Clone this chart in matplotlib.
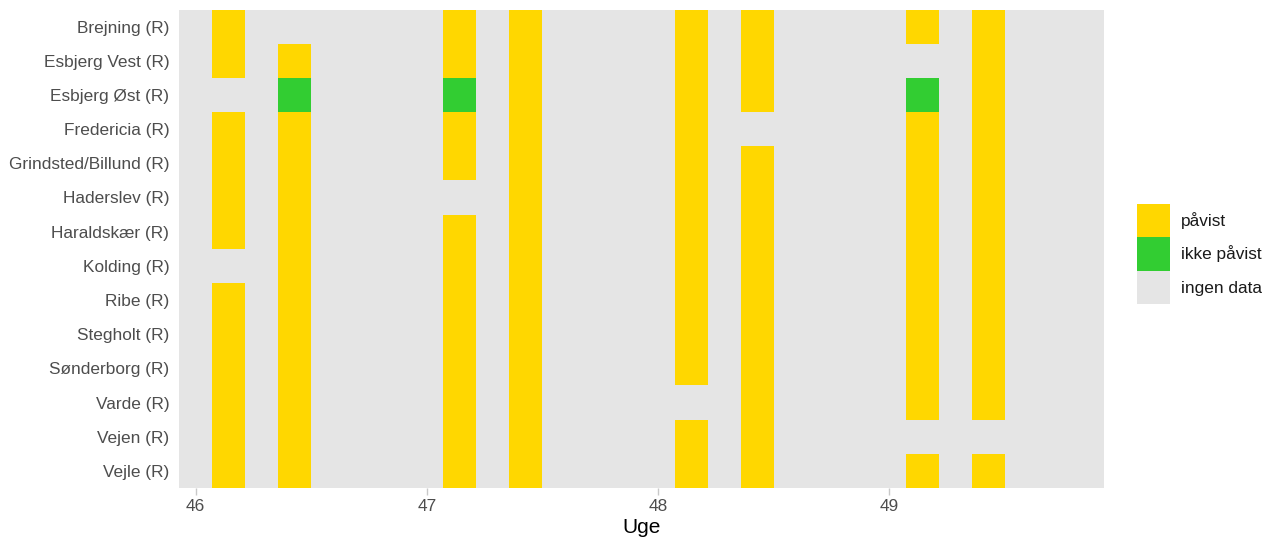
import matplotlib.pyplot as plt
from matplotlib.patches import Patch

plt.rcParams['font.family'] = ['Liberation Sans', 'DejaVu Sans']

stations = ["Brejning (R)", "Esbjerg Vest (R)", "Esbjerg Øst (R)", "Fredericia (R)",
            "Grindsted/Billund (R)", "Haderslev (R)", "Haraldskær (R)", "Kolding (R)",
            "Ribe (R)", "Stegholt (R)", "Sønderborg (R)", "Varde (R)", "Vejen (R)", "Vejle (R)"]

# sample dates: ISO week + weekday offset (days)
weeks = [46, 46, 47, 47, 48, 48, 49, 49]
days = [1, 3, 1, 3, 1, 3, 1, 3]

# one string per sample date, one char per station (top to bottom)
# P = påvist, I = ikke påvist, - = ingen data
results = [
    "PP-PPPP-PPPPPP",
    "-PIPPPPPPPPPPP",
    "PPIPP-PPPPPPPP",
    "PPPPPPPPPPPPPP",
    "PPPPPPPPPPP-PP",
    "PPP-PPPPPPPPPP",
    "P-IPPPPPPPPP-P",
    "PPPPPPPPPPPP-P",
]

colors = {"P": "#FFD700", "I": "#32CD32", "-": "#E5E5E5"}
labels = {"P": "påvist", "I": "ikke påvist", "-": "ingen data"}

FS = 12.4

fig = plt.figure(figsize=(12.73, 5.42), dpi=100)
ax = fig.add_axes([179 / 1273, 1 - 488 / 542, 925 / 1273, 478.5 / 542])
ax.set_facecolor(colors["-"])

n = len(stations)
for wk, d, col in zip(weeks, days, results):
    x = wk + d / 7
    for i, s in enumerate(col):
        if s == "-":
            continue
        ax.bar(x, 1, width=1 / 7, bottom=n - 1 - i - 0.5, color=colors[s], linewidth=0)

ax.set_xlim(46 - 0.5 / 7, 49 + 6.5 / 7)
ax.set_ylim(-0.5, n - 0.5)
ax.set_yticks(range(n))
ax.set_yticklabels(stations[::-1])
ax.set_xticks([46, 47, 48, 49])
ax.tick_params(axis='y', length=0, pad=7, labelsize=FS, labelcolor='#4D4D4D')
ax.tick_params(axis='x', length=5, width=1, color='#C8C8C8', pad=3, labelsize=FS,
               labelcolor='#4D4D4D')
for sp in ax.spines.values():
    sp.set_visible(False)
ax.set_xlabel("Uge", fontsize=15, color='black', labelpad=3)

handles = [Patch(facecolor=colors[k], edgecolor='none', label=labels[k]) for k in ["P", "I", "-"]]
fig.legend(handles=handles, loc='center left', bbox_to_anchor=(1137 / 1273, 1 - 254 / 542),
           frameon=False, fontsize=FS, handlelength=1.92, handleheight=2.63,
           labelspacing=0, borderpad=0, borderaxespad=0, handletextpad=0.64,
           labelcolor='#1A1A1A')

fig.savefig("out.png", dpi=100)
